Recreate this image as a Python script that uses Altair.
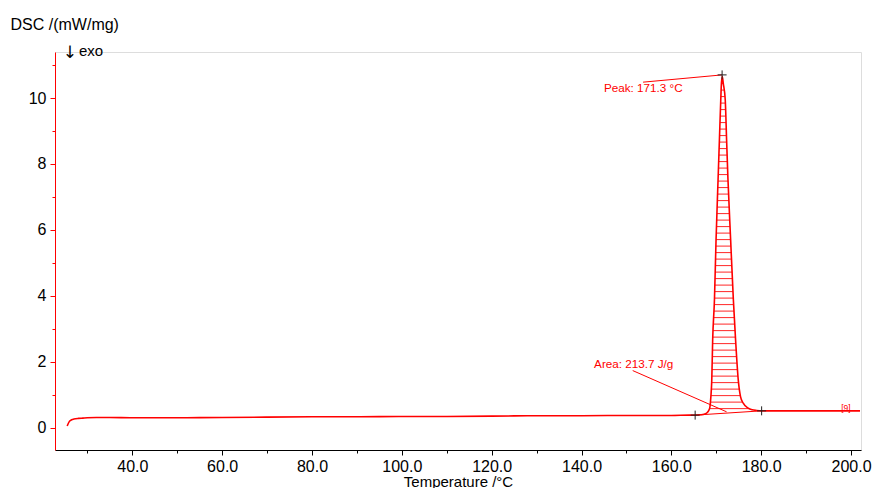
import altair as alt
import pandas as pd
import numpy as np

# ---- data ----
temp = [25.5, 26.0, 26.5, 27.0, 28.0, 29.0, 30.0, 32.0, 35.0, 40.0, 45.0, 50.0,
        60.0, 70.0, 80.0, 90.0, 100.0, 110.0, 120.0, 130.0, 140.0, 150.0, 160.0,
        164.0, 165.3, 166.5, 167.3, 168.0, 168.4, 168.6, 168.8, 169.0, 169.2,
        169.6, 169.95, 170.4, 170.7, 171.0, 171.15, 171.35, 171.55, 172.0,
        172.3, 172.6, 173.2, 173.8, 174.3, 174.9, 175.4, 176.0, 177.1, 178.0,
        179.0, 180.1, 185.0, 190.0, 195.0, 200.0, 202.0]
dsc = [0.06, 0.20, 0.25, 0.27, 0.29, 0.30, 0.31, 0.32, 0.32, 0.31, 0.31, 0.31,
       0.32, 0.33, 0.34, 0.34, 0.35, 0.35, 0.36, 0.37, 0.37, 0.38, 0.38,
       0.39, 0.39, 0.40, 0.42, 0.47, 0.55, 0.65, 0.95, 1.45, 2.67,
       3.90, 5.70, 7.52, 8.73, 9.94, 10.45, 10.65, 10.45, 9.94,
       8.73, 7.55, 5.70, 3.90, 2.67, 1.45, 0.95, 0.75, 0.60, 0.55,
       0.53, 0.52, 0.52, 0.52, 0.52, 0.52, 0.52]

x_tick_values = list(range(30, 201, 10))   # majors every 20, minors between
y_tick_values = list(range(0, 12))         # majors every 2, minors between

base_T = [165.3, 180.1]                    # integration limits
base_v = [0.39, 0.52]

marker_T = [165.3, 180.1, 171.3]
marker_v = [0.39, 0.52, 10.70]

label_text = ["Peak: 171.3 °C", "Area: 213.7 J/g"]
label_T = [145.0, 142.8]
label_v = [10.19, 1.81]
leader_T1 = [153.7, 151.4]
leader_v1 = [10.48, 1.74]
leader_T2 = [171.3, 172.3]
leader_v2 = [10.70, 0.49]

seg_text = ["[9]"]
seg_T = [199.9]
seg_v = [0.53]

HATCH_STEP = 0.197

X_DOMAIN = [22.79, 202.22]
Y_DOMAIN = [-0.667, 11.394]
RED = "#ff0000"
FONT = "Liberation Sans"

# ---- derived tables ----
curve = pd.DataFrame({"T": temp, "v": dsc})

Ta = np.array(temp)
Da = np.array(dsc)
i0 = temp.index(base_T[0])
i1 = temp.index(base_T[1])
ipk = int(np.argmax(Da))
lT, lD = Ta[i0:ipk + 1], Da[i0:ipk + 1]
rT, rD = Ta[ipk:i1 + 1][::-1], Da[ipk:i1 + 1][::-1]

rows = []
h = base_v[0] + HATCH_STEP
while h < Da[ipk]:
    xl = float(np.interp(h, lD, lT))
    xr = float(np.interp(h, rD, rT)) if h >= rD[0] else np.inf
    xb = base_T[0] + (h - base_v[0]) / (base_v[1] - base_v[0]) * (base_T[1] - base_T[0])
    xr = min(xr, xb)
    if xr > xl:
        rows.append({"x1": xl, "x2": xr, "h": h})
    h += HATCH_STEP
hatch = pd.DataFrame(rows)

baseline = pd.DataFrame({"T": base_T, "v": base_v})
markers = pd.DataFrame({"T": marker_T, "v": marker_v})
labels = pd.DataFrame({"T": label_T, "v": label_v, "t": label_text})
leaders = pd.DataFrame({"T1": leader_T1, "v1": leader_v1, "T2": leader_T2, "v2": leader_v2})
segs = pd.DataFrame({"T": seg_T, "v": seg_v, "t": seg_text})

xs = alt.Scale(domain=X_DOMAIN, nice=False, zero=False)
ys = alt.Scale(domain=Y_DOMAIN, nice=False, zero=False)

x_axis = alt.Axis(
    values=x_tick_values,
    labelExpr="datum.value % 20 == 0 ? format(datum.value, '.1f') : ''",
    tickSize={"condition": {"test": "datum.value % 20 == 0", "value": 5}, "value": 3},
    domainColor="#000000", tickColor="#000000", labelColor="#000000",
    labelFontSize=16, labelPadding=3, labelFont=FONT, labelOverlap=False, labelFlush=False,
    grid=False, title="Temperature /°C", titleFont=FONT, titleFontSize=15,
    titleFontWeight="normal", titleColor="#000000", titleBaseline="alphabetic", titleY=36.5,
)
y_axis = alt.Axis(
    values=y_tick_values,
    labelExpr="datum.value % 2 == 0 ? format(datum.value, 'd') : ''",
    tickSize={"condition": {"test": "datum.value % 2 == 0", "value": 5}, "value": 3},
    domainColor=RED, tickColor=RED, labelColor="#000000",
    labelFontSize=16, labelPadding=4, labelFont=FONT, labelOverlap=False, labelFlush=False,
    grid=False, title="DSC /(mW/mg)", titleFont=FONT, titleFontSize=16,
    titleFontWeight="normal", titleColor="#000000", titleAngle=0, titleAlign="left",
    titleBaseline="alphabetic", titleX=-45, titleY=-22.5,
)

hatch_layer = alt.Chart(hatch).mark_rule(color=RED, strokeWidth=1, opacity=0.85).encode(
    x=alt.X("x1:Q", scale=xs, axis=x_axis), x2="x2:Q",
    y=alt.Y("h:Q", scale=ys, axis=y_axis),
)
base_layer = alt.Chart(baseline).mark_line(color=RED, strokeWidth=1).encode(
    x=alt.X("T:Q", scale=xs, axis=x_axis), y=alt.Y("v:Q", scale=ys, axis=y_axis),
)
curve_layer = alt.Chart(curve).mark_line(color=RED, strokeWidth=1.6, interpolate="monotone").encode(
    x=alt.X("T:Q", scale=xs, axis=x_axis), y=alt.Y("v:Q", scale=ys, axis=y_axis),
)
leader_layer = alt.Chart(leaders).mark_rule(color=RED, strokeWidth=1).encode(
    x=alt.X("T1:Q", scale=xs, axis=x_axis), x2="T2:Q",
    y=alt.Y("v1:Q", scale=ys, axis=y_axis), y2="v2:Q",
)
label_layer = alt.Chart(labels).mark_text(
    color=RED, font=FONT, fontSize=11.7, align="left", baseline="alphabetic"
).encode(
    x=alt.X("T:Q", scale=xs, axis=x_axis), y=alt.Y("v:Q", scale=ys, axis=y_axis), text="t:N",
)
seg_layer = alt.Chart(segs).mark_text(
    color=RED, font=FONT, fontSize=8.5, align="right", baseline="alphabetic"
).encode(
    x=alt.X("T:Q", scale=xs, axis=x_axis), y=alt.Y("v:Q", scale=ys, axis=y_axis), text="t:N",
)
marker_layer = alt.Chart(markers).mark_point(
    shape="M-1,0L1,0M0,-1L0,1", size=81, filled=False, color="#222222", strokeWidth=1, opacity=1
).encode(
    x=alt.X("T:Q", scale=xs, axis=x_axis), y=alt.Y("v:Q", scale=ys, axis=y_axis),
)
arrow_layer = alt.Chart(pd.DataFrame({"t": ["↓"]})).mark_text(
    color="#000000", font="DejaVu Sans", fontSize=17, align="center", baseline="alphabetic"
).encode(x=alt.value(14.8), y=alt.value(6), text="t:N")
exo_layer = alt.Chart(pd.DataFrame({"t": ["exo"]})).mark_text(
    color="#000000", font=FONT, fontSize=15, align="left", baseline="alphabetic"
).encode(x=alt.value(24), y=alt.value(4), text="t:N")

chart = alt.layer(
    hatch_layer, base_layer, curve_layer, leader_layer, label_layer, seg_layer,
    marker_layer, arrow_layer, exo_layer,
).properties(
    width=806, height=398,
    autosize=alt.AutoSizeParams(type="none"),
    padding={"left": 55, "top": 52, "right": 11, "bottom": 38},
).configure_view(stroke=None).configure(font=FONT, background="white")

chart.save("out.html", embed_options={"renderer": "svg", "actions": False})
